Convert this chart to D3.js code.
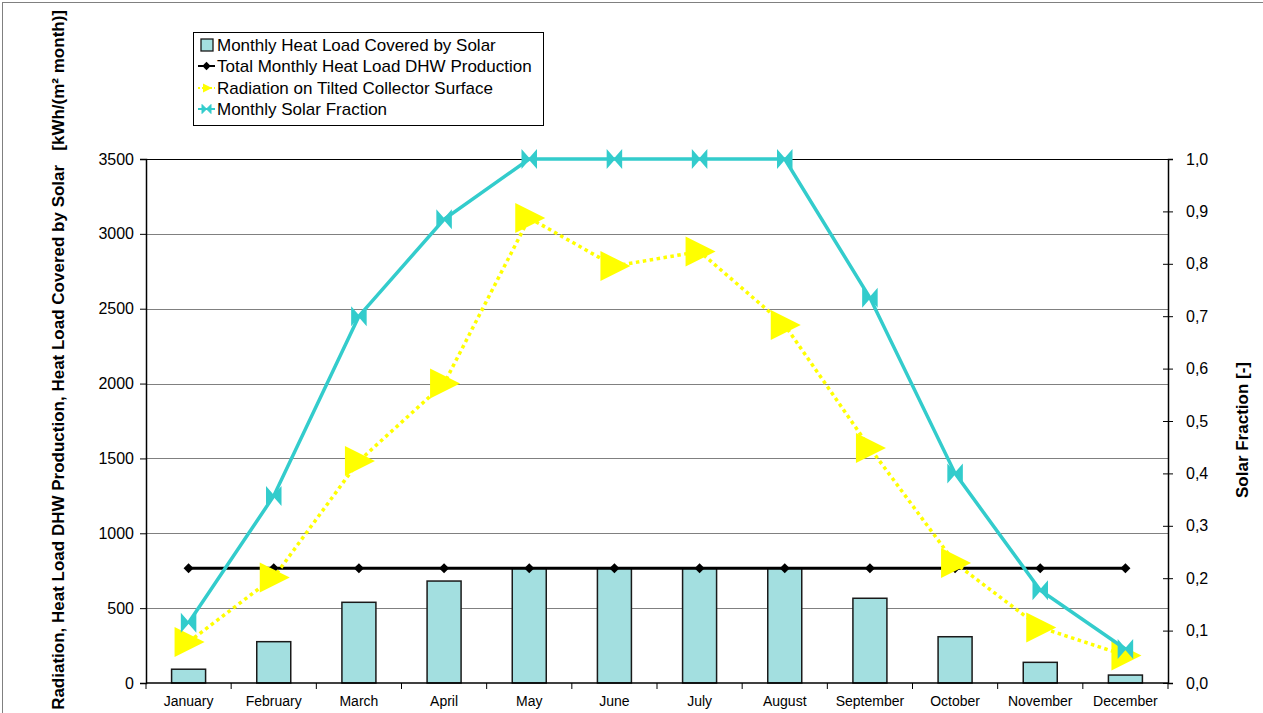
<!DOCTYPE html>
<html>
<head>
<meta charset="utf-8">
<script src="https://cdn.jsdelivr.net/npm/d3@7"></script>
<style>
  html, body { margin: 0; padding: 0; background: #fff; }
  svg { display: block; font-family: "Liberation Sans", Arial, sans-serif; }
</style>
</head>
<body>
<svg id="chart" width="1263" height="713"></svg>
<script>
// Monthly solar thermal balance
const months = ["January","February","March","April","May","June","July","August","September","October","November","December"];
const heatCovered = [92, 276, 539, 681, 766, 766, 766, 766, 566, 309, 138, 53];
const totalLoad = [766, 766, 766, 766, 766, 766, 766, 766, 766, 766, 766, 766];
const radiation = [274, 705, 1483, 2000, 3106, 2785, 2882, 2391, 1570, 801, 371, 184];
const solarFraction = [0.115, 0.357, 0.700, 0.885, 1.0, 1.0, 1.0, 1.0, 0.735, 0.40, 0.177, 0.065];
const leftTicks = [0, 500, 1000, 1500, 2000, 2500, 3000, 3500];
const rightTicks = [0, 0.1, 0.2, 0.3, 0.4, 0.5, 0.6, 0.7, 0.8, 0.9, 1.0];

const svg = d3.select("#chart");
const plot = { left: 146, right: 1168, top: 159, bottom: 683 };
const FONT = "Liberation Sans, Arial, sans-serif";

// chart area frame
svg.append("rect").attr("x", 2.5).attr("y", 2.5).attr("width", 1300).attr("height", 800)
  .attr("fill", "none").attr("stroke", "#808080").attr("stroke-width", 1);

const x = d3.scaleBand().domain(months).range([plot.left, plot.right]);
const yL = d3.scaleLinear().domain([0, 3500]).range([plot.bottom, plot.top]);
const yR = d3.scaleLinear().domain([0, 1]).range([plot.bottom, plot.top]);
const cx = m => x(m) + x.bandwidth() / 2;

// horizontal gridlines
svg.append("g").selectAll("line").data(leftTicks.filter(t => t > 0)).join("line")
  .attr("x1", plot.left).attr("x2", plot.right)
  .attr("y1", d => Math.round(yL(d)) + 0.5).attr("y2", d => Math.round(yL(d)) + 0.5)
  .attr("stroke", d => d === 3500 ? "#000" : "#808080").attr("stroke-width", 1);

// bars: heat load covered by solar
const barW = 34;
svg.append("g").selectAll("rect").data(months).join("rect")
  .attr("x", m => cx(m) - barW / 2)
  .attr("y", (m, i) => yL(heatCovered[i]))
  .attr("width", barW)
  .attr("height", (m, i) => yL(0) - yL(heatCovered[i]))
  .attr("fill", "#A3DFE0").attr("stroke", "#1a1a1a").attr("stroke-width", 1.5);

// total heat load line with diamond markers
const lineL = d3.line().x((d, i) => cx(months[i])).y(d => yL(d));
svg.append("path").datum(totalLoad).attr("d", lineL)
  .attr("fill", "none").attr("stroke", "#000").attr("stroke-width", 3);
svg.append("g").selectAll("path").data(totalLoad).join("path")
  .attr("d", d3.symbol(d3.symbolDiamond2, 64))
  .attr("transform", (d, i) => `translate(${cx(months[i])},${yL(d)})`)
  .attr("fill", "#000");

// radiation: dotted yellow line with right-pointing triangles
svg.append("path").datum(radiation).attr("d", lineL)
  .attr("fill", "none").attr("stroke", "#FFFF00").attr("stroke-width", 3.5)
  .attr("stroke-dasharray", "3.5,3.5");
const tri = "M-14,-15 L16,0 L-14,15 Z";
svg.append("g").selectAll("path").data(radiation).join("path")
  .attr("d", tri)
  .attr("transform", (d, i) => `translate(${cx(months[i])},${yL(d)})`)
  .attr("fill", "#FFFF00");

// solar fraction: teal line with bowtie markers
const lineR = d3.line().x((d, i) => cx(months[i])).y(d => yR(d));
svg.append("path").datum(solarFraction).attr("d", lineR)
  .attr("fill", "none").attr("stroke", "#33CCCC").attr("stroke-width", 3.5);
const bow = "M-7,-8 L0,0 L-7,8 Z M7,-8 L0,0 L7,8 Z";
svg.append("g").selectAll("path").data(solarFraction).join("path")
  .attr("d", bow)
  .attr("transform", (d, i) => `translate(${cx(months[i])},${yR(d)})`)
  .attr("fill", "#33CCCC").attr("stroke", "#33CCCC").attr("stroke-width", 1.5);

// left axis
const axL = svg.append("g").attr("transform", `translate(${plot.left},0)`)
  .call(d3.axisLeft(yL).tickValues(leftTicks).tickSize(6).tickPadding(6).tickFormat(d3.format("d")));
axL.select(".domain").attr("stroke-width", 1.5);
axL.selectAll("text").attr("font-size", 16).attr("fill", "#000").attr("font-family", FONT);

// right axis (ticks cross the axis line)
const axR = svg.append("g").attr("transform", `translate(${plot.right},0)`)
  .call(d3.axisRight(yR).tickValues(rightTicks).tickSize(5).tickPadding(13)
    .tickFormat(d => d3.format(".1f")(d).replace(".", ",")));
axR.select(".domain").attr("stroke-width", 1.5);
axR.selectAll(".tick line").attr("x1", -5);
axR.selectAll("text").attr("font-size", 16).attr("fill", "#000").attr("font-family", FONT);

// bottom axis: ticks between categories
const axB = svg.append("g").attr("transform", `translate(0,${plot.bottom})`);
axB.append("line").attr("x1", plot.left).attr("x2", plot.right + 1).attr("y1", 0).attr("y2", 0)
  .attr("stroke", "#000").attr("stroke-width", 1.5);
const bounds = months.map(m => x(m)).concat([plot.right]);
axB.selectAll("line.tk").data(bounds).join("line").attr("class", "tk")
  .attr("x1", d => d).attr("x2", d => d).attr("y1", 0).attr("y2", 6)
  .attr("stroke", "#000").attr("stroke-width", 1);
axB.selectAll("text").data(months).join("text")
  .attr("x", m => cx(m)).attr("y", 23).attr("text-anchor", "middle")
  .attr("font-size", 14).text(m => m);

// axis titles
svg.append("text")
  .attr("transform", `translate(64,10) rotate(-90)`)
  .attr("text-anchor", "end").attr("font-size", 17).attr("font-weight", "bold")
  .style("white-space", "pre")
  .text("Radiation, Heat Load DHW Production, Heat Load Covered by Solar   [kWh/(m² month)]");
svg.append("text")
  .attr("transform", `translate(1248,430) rotate(-90)`)
  .attr("text-anchor", "middle").attr("font-size", 17).attr("font-weight", "bold")
  .text("Solar Fraction [-]");

// legend
const lg = svg.append("g").attr("transform", "translate(193,32)");
lg.append("rect").attr("x", 0.5).attr("y", 0.5).attr("width", 350).attr("height", 93)
  .attr("fill", "#fff").attr("stroke", "#000").attr("stroke-width", 1);
const items = ["Monthly Heat Load Covered by Solar", "Total Monthly Heat Load DHW Production",
  "Radiation on Tilted Collector Surface", "Monthly Solar Fraction"];
const rowY = [13, 34, 56, 77];
items.forEach((t, i) => {
  lg.append("text").attr("x", 24).attr("y", rowY[i] + 6).attr("font-size", 17).text(t);
});
lg.append("rect").attr("x", 8).attr("y", rowY[0] - 6).attr("width", 12).attr("height", 12)
  .attr("fill", "#A3DFE0").attr("stroke", "#1a1a1a").attr("stroke-width", 1.3);
lg.append("line").attr("x1", 5).attr("x2", 22).attr("y1", rowY[1]).attr("y2", rowY[1]).attr("stroke", "#000").attr("stroke-width", 2);
lg.append("path").attr("d", d3.symbol(d3.symbolDiamond2, 45)).attr("transform", `translate(13.5,${rowY[1]})`).attr("fill", "#000");
lg.append("line").attr("x1", 5).attr("x2", 22).attr("y1", rowY[2]).attr("y2", rowY[2]).attr("stroke", "#FFFF00").attr("stroke-width", 2).attr("stroke-dasharray", "2,2");
lg.append("path").attr("d", "M-4,-4.5 L5,0 L-4,4.5 Z").attr("transform", `translate(14,${rowY[2]})`).attr("fill", "#FFFF00");
lg.append("line").attr("x1", 5).attr("x2", 22).attr("y1", rowY[3]).attr("y2", rowY[3]).attr("stroke", "#33CCCC").attr("stroke-width", 2);
lg.append("path").attr("d", "M-4.5,-4.5 L0,0 L-4.5,4.5 Z M4.5,-4.5 L0,0 L4.5,4.5 Z").attr("transform", `translate(13.5,${rowY[3]})`).attr("fill", "#33CCCC").attr("stroke", "#33CCCC");
</script>
</body>
</html>
